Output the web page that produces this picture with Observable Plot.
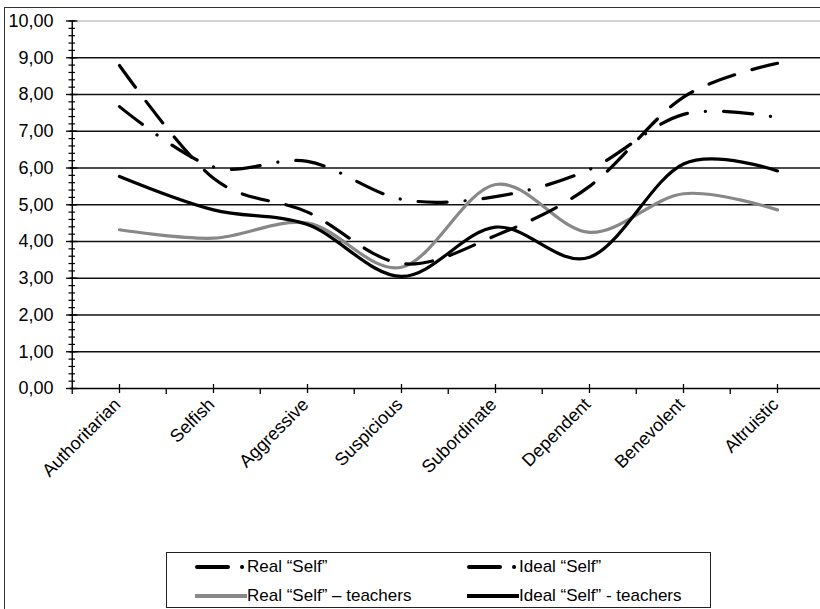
<!DOCTYPE html>
<html><head><meta charset="utf-8">
<script src="https://cdn.jsdelivr.net/npm/d3@7"></script>
<script src="https://cdn.jsdelivr.net/npm/@observablehq/plot@0.6"></script>
<style>
body{margin:0;background:#fff;}
#wrap{position:relative;width:820px;height:609px;overflow:hidden;font-family:"Liberation Sans",Arial,sans-serif;color:#000;}
#frame{position:absolute;left:4px;top:7px;width:900px;height:700px;border:1.4px solid #333;}
#chart{position:absolute;left:0;top:0;}
#legend{position:absolute;left:166px;top:552px;width:543px;height:54px;border:1.3px solid #222;font-size:17px;background:#fff;}
.item{position:absolute;display:flex;align-items:center;height:22px;white-space:nowrap;}
.item svg{display:block;}
</style></head><body>
<div id="wrap"><div id="frame"></div><div id="chart"></div><div id="legend"></div></div>
<script>
const categories = ["Authoritarian","Selfish","Aggressive","Suspicious","Subordinate","Dependent","Benevolent","Altruistic"];
const realSelf      = [7.67, 6.03, 6.18, 5.15, 5.22, 5.96, 7.46, 7.37];
const idealSelf     = [8.79, 5.72, 4.80, 3.40, 4.16, 5.50, 7.93, 8.85];
const realTeachers  = [4.32, 4.09, 4.50, 3.30, 5.55, 4.25, 5.30, 4.86];
const idealTeachers = [5.77, 4.86, 4.46, 3.05, 4.39, 3.57, 6.11, 5.92];
const yTicks = [0,1,2,3,4,5,6,7,8,9,10];
const yGrid = [1,2,3,4,5,6,7,8,9];
const seriesNames = ["Real “Self”", "Ideal “Self”", "Real “Self” – teachers", "Ideal “Self” - teachers"];

const styles = {
  "Real “Self”": {stroke:"#000", dash:"29,18,0.1,18", legendDash:"31,14,0.1,100"},
  "Ideal “Self”": {stroke:"#000", dash:"27,18", legendDash:"31,14,0.1,100"},
  "Real “Self” – teachers": {stroke:"#888", dash:null, legendDash:null},
  "Ideal “Self” - teachers": {stroke:"#000", dash:null, legendDash:null}
};
const valuesBySeries = [realSelf, idealSelf, realTeachers, idealTeachers];
const rows = [];
seriesNames.forEach((s, i) => categories.forEach((c, j) => rows.push({series: s, cat: c, v: valuesBySeries[i][j]})));

// layout
const chartW = 820, chartH = 548, pLeft = 70, pRight = 826, pTop = 20.5, pBottom = 388;
const bw = (pRight - pLeft) / categories.length;
const frameH = pBottom - pTop;
const fmt = d => d.toFixed(2).replace(".", ",");
const minor = d3.range(0, 10.0001, 0.2);
const drawOrder = [2, 3, 0, 1];
const firstCat = () => categories[0];

const plot = Plot.plot({
  width: chartW, height: chartH,
  marginLeft: pLeft, marginRight: 0, marginTop: pTop, marginBottom: chartH - pBottom,
  style: {fontFamily: '"Liberation Sans", Arial, sans-serif', fontSize: "18px", color: "#000", background: "transparent", overflow: "visible"},
  x: {type: "band", domain: categories, range: [pLeft, pRight], padding: 0, label: null},
  y: {domain: [0, 10], range: [pBottom, pTop], label: null},
  marks: [
    Plot.ruleY([10], {stroke: "#c4c4c4", strokeWidth: 1.3}),
    Plot.ruleY(yGrid, {stroke: "#111", strokeWidth: 1.3}),
    Plot.ruleY([0], {stroke: "#000", strokeWidth: 1.4}),
    Plot.ruleX([categories[0]], {dx: -bw / 2, stroke: "#000", strokeWidth: 1.4}),
    // y ticks (crossing the axis)
    Plot.tickY(minor, {x: firstCat, y: d => d, insetRight: bw - 7, dx: -3.5, stroke: "#000", strokeWidth: 1.2}),
    Plot.tickY(yTicks, {x: firstCat, y: d => d, insetRight: bw - 12, dx: -6, stroke: "#000", strokeWidth: 1.3}),
    Plot.axisY({ticks: yTicks, tickSize: 0, tickPadding: 17, tickFormat: fmt, fontSize: 18, fill: "#000", label: null}),
    // x ticks: crossing at category centres, outside at boundaries
    Plot.tickX(categories, {x: d => d, insetTop: frameH - 4, insetBottom: -5, stroke: "#000", strokeWidth: 1.3}),
    Plot.tickX(categories, {x: d => d, dx: -bw / 2, insetTop: frameH, insetBottom: -6, stroke: "#000", strokeWidth: 1.3}),
    Plot.axisX({tickSize: 0, tickPadding: 13, tickRotate: -45, dx: -2, fontSize: 18, fill: "#000", label: null}),
    ...drawOrder.map(i => {
      const s = seriesNames[i];
      return Plot.line(rows.filter(r => r.series === s), {
        x: "cat", y: "v", curve: "cardinal",
        stroke: styles[s].stroke, strokeWidth: 3.2,
        strokeDasharray: styles[s].dash, strokeLinecap: "round", strokeLinejoin: "round"
      });
    })
  ]
});
document.getElementById("chart").appendChild(plot);

// Legend
const legend = document.getElementById("legend");
const pos = [
  {left: 28, top: 3}, {left: 300, top: 3},
  {left: 28, top: 32}, {left: 300, top: 32}
];
seriesNames.forEach((s, i) => {
  const it = document.createElement("div");
  it.className = "item";
  it.style.left = pos[i].left + "px";
  it.style.top = pos[i].top + "px";
  const st = styles[s];
  const w = 52;
  const dashAttr = st.legendDash ? `stroke-dasharray="${st.legendDash}" stroke-linecap="round"` : `stroke-linecap="butt"`;
  const x1 = st.legendDash ? 2 : 0;
  it.innerHTML = `<svg width="${w}" height="12"><line x1="${x1}" y1="6" x2="${w}" y2="6" stroke="${st.stroke}" stroke-width="4" ${dashAttr}/></svg><span>${s}</span>`;
  legend.appendChild(it);
});
</script>
</body></html>
